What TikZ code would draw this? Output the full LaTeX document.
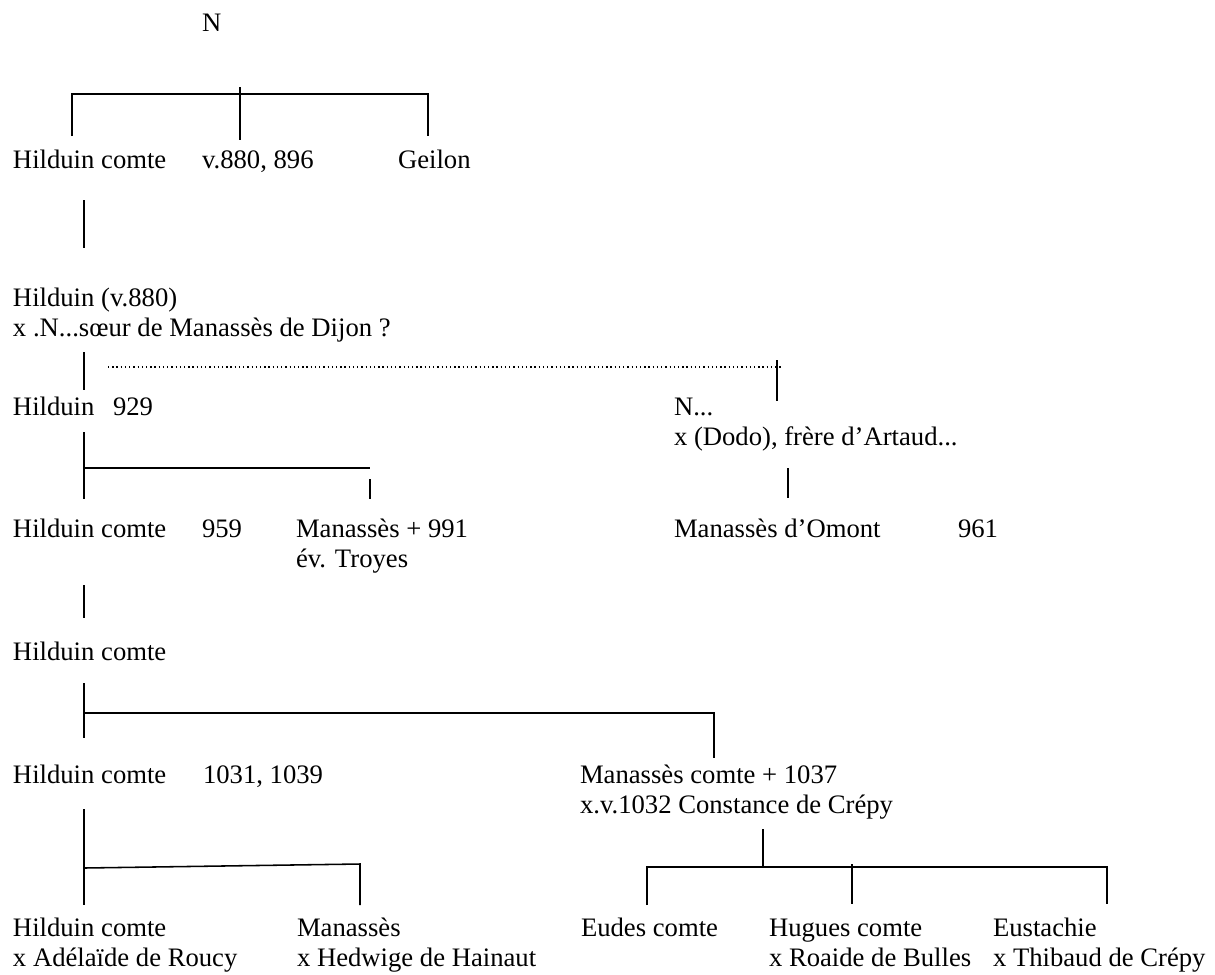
\documentclass[tikz,border=0pt]{standalone}
\usepackage{fontspec}
\setmainfont{Liberation Serif}
\begin{document}
\begin{tikzpicture}[x=0.45pt,y=-0.45pt,
  lbl/.style={anchor=base west,inner sep=0pt,outer sep=0pt,align=left,font=\rmfamily\fontsize{12}{13.5}\selectfont},
  link/.style={line width=0.7pt},
  dotlink/.style={line width=0.6pt,dash pattern=on 0.6pt off 1.3pt}]
\useasboundingbox (0,0) rectangle (1215,974);
% texts (multi-line nodes: base anchor is the last line)
\node[lbl] (n0) at (202,31) {N};
\node[lbl] (h1) at (13,168) {Hilduin comte};
\node[lbl] (v880) at (202,168) {v.880, 896};
\node[lbl] (geilon) at (398,168) {Geilon};
\node[lbl] (h2) at (13,336) {Hilduin (v.880)\\x .N...sœur de Manassès de Dijon ?};
\node[lbl] (h3) at (13,415) {Hilduin};
\node[lbl] (d929) at (113,415) {929};
\node[lbl] (nn) at (674,445) {N...\\x (Dodo), frère d’Artaud...};
\node[lbl] (h4) at (13,537) {Hilduin comte};
\node[lbl] (d959) at (202,537) {959};
\node[lbl] (m991) at (296,567) {Manassès + 991\\év. Troyes};
\node[lbl] (momont) at (674,537) {Manassès d’Omont};
\node[lbl] (d961) at (958,537) {961};
\node[lbl] (h5) at (13,660) {Hilduin comte};
\node[lbl] (h6) at (13,783) {Hilduin comte};
\node[lbl] (d1031) at (203,783) {1031, 1039};
\node[lbl] (m1037) at (580,813) {Manassès comte + 1037\\x.v.1032 Constance de Crépy};
\node[lbl] (h7) at (13,966) {Hilduin comte\\x Adélaïde de Roucy};
\node[lbl] (m7) at (297,966) {Manassès\\x Hedwige de Hainaut};
\node[lbl] (eudes) at (581,936) {Eudes comte};
\node[lbl] (hugues) at (769,966) {Hugues comte\\x Roaide de Bulles};
\node[lbl] (eust) at (993,966) {Eustachie\\x Thibaud de Crépy};
% connector points
\coordinate (a0) at (240,87);  \coordinate (a1) at (240,140);
\coordinate (a2) at (72,136);  \coordinate (a3) at (72,94);
\coordinate (a4) at (428,94);  \coordinate (a5) at (428,136);
\coordinate (b0) at (84,200);  \coordinate (b1) at (84,248);
\coordinate (c0) at (84,352);  \coordinate (c1) at (84,390);
\coordinate (d0) at (108,367); \coordinate (d1) at (783,367);
\coordinate (d2) at (777,360); \coordinate (d3) at (777,401);
\coordinate (e0) at (84,432);  \coordinate (e1) at (84,499);
\coordinate (e2) at (84,468);  \coordinate (e3) at (370,468);
\coordinate (e4) at (370,479); \coordinate (e5) at (370,499);
\coordinate (f0) at (788,468); \coordinate (f1) at (788,498);
\coordinate (g0) at (84,585);  \coordinate (g1) at (84,618);
\coordinate (i0) at (84,683);  \coordinate (i1) at (84,738);
\coordinate (i2) at (84,713);  \coordinate (i3) at (714,713);
\coordinate (i4) at (714,758);
\coordinate (j0) at (84,809);  \coordinate (j1) at (84,905);
\coordinate (j2) at (84,868);  \coordinate (j3) at (360,864);
\coordinate (j4) at (360,905);
\coordinate (k0) at (763,829); \coordinate (k1) at (763,867);
\coordinate (k2) at (647,867); \coordinate (k3) at (1107,867);
\coordinate (k4) at (647,905); \coordinate (k5) at (1107,904);
\coordinate (k6) at (852,864); \coordinate (k7) at (852,904);
% connectors
\draw[link] (a0) -- (a1);
\draw[link] (a2) -- (a3) -- (a4) -- (a5);
\draw[link] (b0) -- (b1);
\draw[link] (c0) -- (c1);
\draw[dotlink] (d0) -- (d1);
\draw[link] (d2) -- (d3);
\draw[link] (e0) -- (e1);
\draw[link] (e2) -- (e3);
\draw[link] (e4) -- (e5);
\draw[link] (f0) -- (f1);
\draw[link] (g0) -- (g1);
\draw[link] (i0) -- (i1);
\draw[link] (i2) -- (i3) -- (i4);
\draw[link] (j0) -- (j1);
\draw[link] (j2) -- (j3) -- (j4);
\draw[link] (k0) -- (k1);
\draw[link] (k4) -- (k2) -- (k3) -- (k5);
\draw[link] (k6) -- (k7);
\end{tikzpicture}
\end{document}
